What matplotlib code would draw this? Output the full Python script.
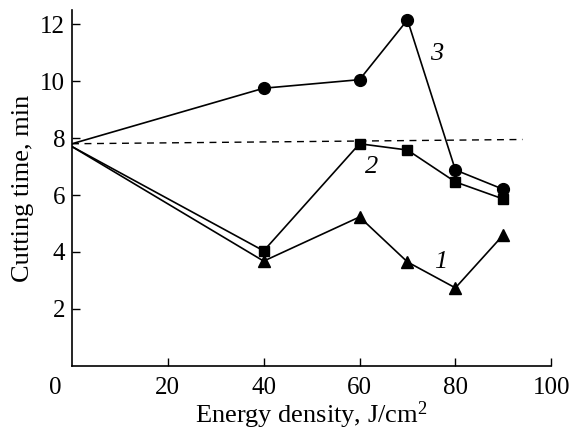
import matplotlib
matplotlib.use("Agg")
import matplotlib.pyplot as plt
import matplotlib.transforms as mtransforms

plt.rcParams['font.family'] = ['Liberation Serif', 'DejaVu Serif']
plt.rcParams['mathtext.fontset'] = 'custom'
plt.rcParams['mathtext.rm'] = 'Liberation Serif'
plt.rcParams['mathtext.it'] = 'Liberation Serif:italic'

x = [0, 40, 60, 70, 80, 90]
y1 = [7.7, 3.68, 5.23, 3.65, 2.74, 4.6]
y2 = [7.7, 4.04, 7.8, 7.58, 6.46, 5.86]
y3 = [7.8, 9.75, 10.05, 12.15, 6.88, 6.2]
ref_x = [0, 94]
ref_y = [7.8, 7.95]
xticks = [0, 20, 40, 60, 80, 100]
yticks = [2, 4, 6, 8, 10, 12]

fig = plt.figure(figsize=(5.76, 4.30), dpi=100)
ax = fig.add_axes([0.125, 0.149, 0.832, 0.828])

ax.plot(ref_x, ref_y, color='black', lw=1.0, ls=(0, (5, 4)))
mk = list(range(1, len(x)))
ax.plot(x, y3, color='black', lw=1.2, marker='o', ms=8.5, markevery=mk)
ax.plot(x, y2, color='black', lw=1.2, marker='s', ms=7, markevery=mk)
ax.plot(x, y1, color='black', lw=1.2, marker='^', ms=8.5, markevery=mk)

ax.text(76, 10.95, '3', fontsize=19, style='italic', ha='center', va='center')
ax.text(62.5, 7.0, '2', fontsize=19, style='italic', ha='center', va='center')
ax.text(77, 3.65, '1', fontsize=19, style='italic', ha='center', va='center')

ax.set_xlim(0, 100)
ax.set_ylim(0, 12.5)
ax.set_xticks(xticks)
ax.set_yticks(yticks)
ax.tick_params(direction='in', length=6, width=1.0, labelsize=18, pad=8)
ax.tick_params(axis='y', pad=5)
for s in ['top', 'right']:
    ax.spines[s].set_visible(False)
for s in ['left', 'bottom']:
    ax.spines[s].set_linewidth(1.2)

# shift the "0" x tick label to the left like the original
offset = mtransforms.ScaledTranslation(-0.17, 0, fig.dpi_scale_trans)
lab0 = ax.get_xticklabels()[0]
lab0.set_transform(lab0.get_transform() + offset)
ax.xaxis.get_major_ticks()[0].tick1line.set_visible(False)

ax.set_xlabel('Energy density, J/cm$^2$', fontsize=19, labelpad=0)
ax.set_ylabel('Cutting time, min', fontsize=19, labelpad=4)

fig.savefig('out.png', dpi=100)
